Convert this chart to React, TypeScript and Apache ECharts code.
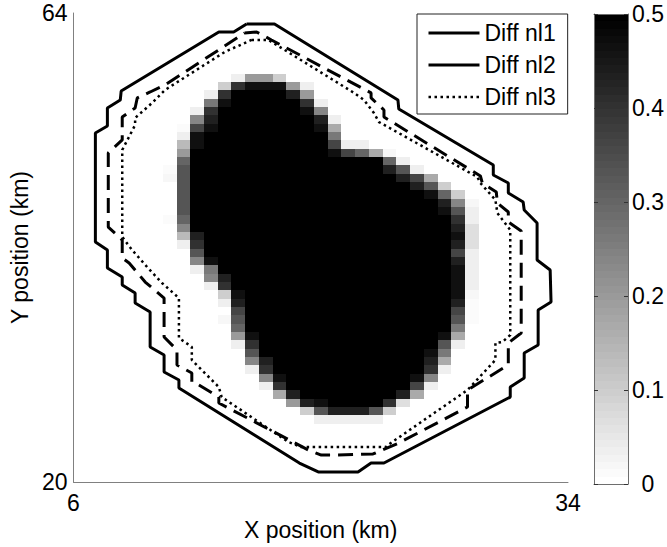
import React, { useEffect, useRef } from 'react';
import * as echarts from 'echarts';

// ---------- data ----------
const X_LABELS = [6, 34];
const Y_LABELS = [20, 64];
const C_MAX = 0.5;
const CBAR_LEVEL_COUNT = 64;

// value of each shade code
const SHADE_VALUES: Record<string, number> = {
  '.': 0, a: 0.01, b: 0.02, c: 0.035, d: 0.065, e: 0.1, f: 0.135, g: 0.165,
  h: 0.2, i: 0.235, j: 0.265, k: 0.3, l: 0.335, m: 0.365, n: 0.4, o: 0.435,
  p: 0.465, '#': 0.5,
};

// data grid: column i centred at 6 + i*DX, row j spans 20 + j*DY .. 20 + (j+1)*DY
const GRID_X0 = 6;
const GRID_DX = 28 / 36;
const GRID_Y0 = 20;
const GRID_DY = 0.782;
const FIRST_COL = 7;
const TOP_ROW = 48;

// rows from j = 48 (top) down to j = 7, columns i = 7 .. 29
const BLOB_ROWS = [
  '.....chhe..............',
  '....enppphc............',
  '...cn####oh............',
  '...jp#####nc...........',
  '..cn######pi...........',
  '..io#######oc..........',
  '.amp#######pg..........',
  '.cp#########j..........',
  '.fp#########mcc........',
  '.h##########pmkgb......',
  '.k##############kc.....',
  'al##############olc....',
  'bl###############omg...',
  '.l################ole..',
  '.l#################pke.',
  '.l##################oib',
  '.l##################plc',
  'ak###################nc',
  '.i###################od',
  '.fo##################pd',
  '.cn##################od',
  '..l##################mc',
  '..ip#################oc',
  '..cj#################pc',
  '...io################pc',
  '...cn################pc',
  '....ep###############pb',
  '....co###############oa',
  '.....m###############ma',
  '....bl###############la',
  '.....k###############j.',
  '.....hp#############pg.',
  '.....cn#############lc.',
  '......l############pj..',
  '......io###########og..',
  '......cn###########nc..',
  '.......ip#########pi...',
  '.......cn#########mc...',
  '........go#######og....',
  '.........hop####nd.....',
  '..........elooole......',
  '...........ccccc.......',
];

const NL1 = [
  [15.8, 62.97], [17.38, 62.97], [24.37, 55.84], [24.42, 54.99], [29.77, 49.74], [29.77, 48.8],
  [30.62, 48.05], [30.62, 47.11], [31.46, 46.27], [31.52, 45.52], [32.25, 44.3], [32.25, 40.83],
  [32.99, 39.89], [33.04, 36.89], [32.31, 36.14], [32.31, 32.85], [31.52, 32.1], [31.52, 29.76],
  [30.73, 28.91], [30.73, 27.97], [23.58, 21.78], [22.85, 21.78], [22.11, 20.94], [19.86, 20.94],
  [18.79, 21.78], [11.97, 28.82], [11.97, 29.57], [11.13, 30.32], [11.13, 31.91], [10.34, 32.67],
  [10.34, 35.95], [9.49, 36.79], [9.49, 37.73], [8.76, 38.48], [8.76, 39.23], [7.92, 40.08],
  [7.92, 41.77], [7.24, 42.52], [7.24, 52.74], [7.92, 53.4], [7.92, 55.09], [8.65, 55.84],
  [8.7, 56.68], [14.23, 62.22], [15.07, 62.22], [15.8, 62.97],
];

const NL2 = [
  [15.69, 62.12], [16.37, 62.22], [17.21, 61.47], [22.85, 56.5], [22.85, 56.03], [23.58, 54.9],
  [23.58, 54.24], [29.04, 48.71], [29.15, 48.05], [29.94, 47.21], [30.0, 46.17], [30.62, 45.33],
  [30.62, 44.39], [31.35, 43.55], [31.35, 33.98], [30.62, 33.04], [30.62, 30.98], [28.31, 28.63],
  [28.31, 27.04], [24.42, 23.66], [22.96, 22.63], [20.76, 22.53], [20.03, 22.53], [19.3, 23.0],
  [14.23, 27.41], [14.23, 27.97], [13.1, 29.1], [12.7, 29.38], [12.7, 30.23], [11.86, 30.98],
  [11.86, 32.38], [11.13, 33.6], [11.13, 37.26], [10.06, 38.76], [9.15, 40.55], [8.76, 41.02],
  [8.76, 42.7], [7.97, 43.92], [7.97, 50.87], [8.76, 52.09], [8.76, 54.24], [9.49, 55.09],
  [9.61, 56.03], [10.34, 56.59], [11.18, 57.25], [15.69, 62.12],
];

const NL3 = [
  [16.08, 61.47], [17.04, 61.47], [21.89, 56.5], [22.45, 55.84], [23.01, 54.62], [23.3, 53.77],
  [28.87, 48.61], [29.04, 48.05], [29.89, 46.46], [30.0, 45.24], [30.73, 43.64], [30.73, 33.79],
  [30.28, 33.13], [29.89, 33.04], [29.89, 31.45], [28.31, 28.63], [23.8, 23.47], [23.69, 23.28],
  [18.9, 23.28], [18.17, 23.75], [14.39, 27.97], [14.23, 28.91], [12.7, 31.45], [12.7, 32.67],
  [11.97, 33.51], [11.97, 37.26], [11.01, 38.67], [10.17, 40.17], [9.32, 41.77], [8.76, 42.99],
  [8.76, 51.15], [9.49, 53.49], [9.49, 54.15], [10.45, 55.56], [11.18, 56.78], [14.56, 60.34],
  [16.08, 61.47],
];

const SERIES_NAMES = ['Diff nl1', 'Diff nl2', 'Diff nl3'];

// ---------- helpers ----------
const FONT = '"Liberation Sans", Arial, Helvetica, sans-serif';

function shadeColor(v: number): string {
  const k = Math.max(0, Math.min(CBAR_LEVEL_COUNT - 1, Math.floor((v / C_MAX) * CBAR_LEVEL_COUNT)));
  const g = Math.round(255 * (1 - k / (CBAR_LEVEL_COUNT - 1)));
  return `rgb(${g},${g},${g})`;
}

function buildHeatData(): number[][] {
  const out: number[][] = [];
  BLOB_ROWS.forEach((row, r) => {
    const j = TOP_ROW - r;
    for (let c = 0; c < row.length; c++) {
      const v = SHADE_VALUES[row[c]] ?? 0;
      if (v <= 0) continue;
      const i = FIRST_COL + c;
      out.push([GRID_X0 + i * GRID_DX, GRID_Y0 + (j + 0.5) * GRID_DY, v]);
    }
  });
  return out;
}

function snappedRect(p0: number[], p1: number[]) {
  const x0 = Math.round(p0[0]);
  const x1 = Math.round(p1[0]);
  const y0 = Math.round(p0[1]);
  const y1 = Math.round(p1[1]);
  return { x: x0, y: y0, width: x1 - x0, height: y1 - y0 };
}

export default function App() {
  const ref = useRef<HTMLDivElement>(null);

  useEffect(() => {
    document.body.style.margin = '0';
    if (!ref.current) return;
    const chart = echarts.init(ref.current, undefined, { renderer: 'svg' });

    const heatData = buildHeatData();
    const cbarData = Array.from({ length: CBAR_LEVEL_COUNT }, (_, k) => [k]);
    const band = C_MAX / CBAR_LEVEL_COUNT;

    const axisText = { fontFamily: FONT, fontSize: 23, color: '#000' };

    const option: any = {
      animation: false,
      backgroundColor: '#fff',
      textStyle: { fontFamily: FONT },
      grid: [
        { left: 71, top: 13, width: 497, height: 469 },
        { left: 594, top: 14, width: 35, height: 470 },
      ],
      xAxis: [
        {
          type: 'value', gridIndex: 0, min: 6, max: 34,
          axisLine: { show: true, lineStyle: { color: '#808080', width: 1 } },
          axisTick: { show: false }, splitLine: { show: false },
          axisLabel: { ...axisText, margin: 9, customValues: X_LABELS },
          name: 'X position (km)', nameLocation: 'middle', nameGap: 46,
          nameTextStyle: { ...axisText, verticalAlign: 'middle' },
        },
        {
          type: 'value', gridIndex: 1, min: 0, max: 1, position: 'bottom', z: 10,
          axisLine: { show: true, onZero: false, lineStyle: { color: '#6e6e6e' } },
          axisTick: { show: false }, axisLabel: { show: false }, splitLine: { show: false },
        },
        {
          type: 'value', gridIndex: 1, min: 0, max: 1, position: 'top', z: 10,
          axisLine: { show: true, onZero: false, lineStyle: { color: '#6e6e6e' } },
          axisTick: { show: false }, axisLabel: { show: false }, splitLine: { show: false },
        },
      ],
      yAxis: [
        {
          type: 'value', gridIndex: 0, min: 20, max: 64,
          axisLine: { show: true, lineStyle: { color: '#808080', width: 1 } },
          axisTick: { show: false }, splitLine: { show: false },
          axisLabel: { ...axisText, margin: 6, customValues: Y_LABELS },
          name: 'Y position (km)', nameLocation: 'middle', nameGap: 48,
          nameTextStyle: { ...axisText, verticalAlign: 'middle' },
        },
        {
          type: 'value', gridIndex: 1, min: 0, max: C_MAX, interval: 0.1, position: 'right', z: 10,
          axisLine: { show: true, onZero: false, lineStyle: { color: '#6e6e6e' } },
          axisTick: { show: true, inside: true, length: 4, lineStyle: { color: '#333' } },
          axisLabel: { ...axisText, align: 'center', margin: 20 },
          splitLine: { show: false },
        },
        {
          type: 'value', gridIndex: 1, min: 0, max: C_MAX, interval: 0.1, position: 'left', z: 10,
          axisLine: { show: true, onZero: false, lineStyle: { color: '#6e6e6e' } },
          axisTick: { show: true, inside: true, length: 4, lineStyle: { color: '#333' } },
          axisLabel: { show: false }, splitLine: { show: false },
        },
      ],
      legend: {
        orient: 'vertical', left: 417, top: 14,
        padding: [6, 12, 4, 10],
        itemWidth: 51, itemHeight: 14, itemGap: 6,
        backgroundColor: '#fff', borderColor: '#222', borderWidth: 1, borderRadius: 0,
        textStyle: { fontFamily: FONT, fontSize: 23, color: '#000', lineHeight: 26 },
        itemStyle: { opacity: 0 },
        lineStyle: { width: 3 },
        selectedMode: false,
        data: [
          { name: SERIES_NAMES[0] },
          { name: SERIES_NAMES[1], lineStyle: { type: 'solid', width: 3 } },
          { name: SERIES_NAMES[2], lineStyle: { width: 2.5 } },
        ],
      },
      series: [
        {
          type: 'custom', name: 'field', xAxisIndex: 0, yAxisIndex: 0, clip: true, silent: true,
          encode: { x: 0, y: 1 },
          data: heatData,
          renderItem: (_p: any, api: any) => {
            const x = api.value(0), y = api.value(1), v = api.value(2);
            const p0 = api.coord([x - GRID_DX / 2, y + GRID_DY / 2]);
            const p1 = api.coord([x + GRID_DX / 2, y - GRID_DY / 2]);
            return {
              type: 'rect',
              shape: snappedRect(p0, p1),
              style: { fill: shadeColor(v) },
            };
          },
        },
        {
          type: 'custom', name: 'colorbar', xAxisIndex: 1, yAxisIndex: 1, silent: true,
          data: cbarData,
          renderItem: (_p: any, api: any) => {
            const k = api.value(0);
            const p0 = api.coord([0, (k + 1) * band]);
            const p1 = api.coord([1, k * band]);
            return {
              type: 'rect',
              shape: snappedRect(p0, p1),
              style: { fill: shadeColor((k + 0.5) * band) },
            };
          },
        },
        {
          type: 'line', name: SERIES_NAMES[0], xAxisIndex: 0, yAxisIndex: 0, data: NL1,
          symbol: 'none', silent: true, z: 5,
          lineStyle: { color: '#000', width: 3, type: 'solid' },
          itemStyle: { color: '#000' },
        },
        {
          type: 'line', name: SERIES_NAMES[1], xAxisIndex: 0, yAxisIndex: 0, data: NL2,
          symbol: 'none', silent: true, z: 5,
          lineStyle: { color: '#000', width: 3, type: [15, 8] },
          itemStyle: { color: '#000' },
        },
        {
          type: 'line', name: SERIES_NAMES[2], xAxisIndex: 0, yAxisIndex: 0, data: NL3,
          symbol: 'none', silent: true, z: 5,
          lineStyle: { color: '#000', width: 2.5, type: [2.5, 3.5] },
          itemStyle: { color: '#000' },
        },
      ],
    };

    chart.setOption(option);
    return () => chart.dispose();
  }, []);

  return <div ref={ref} style={{ width: 667, height: 547 }} />;
}
